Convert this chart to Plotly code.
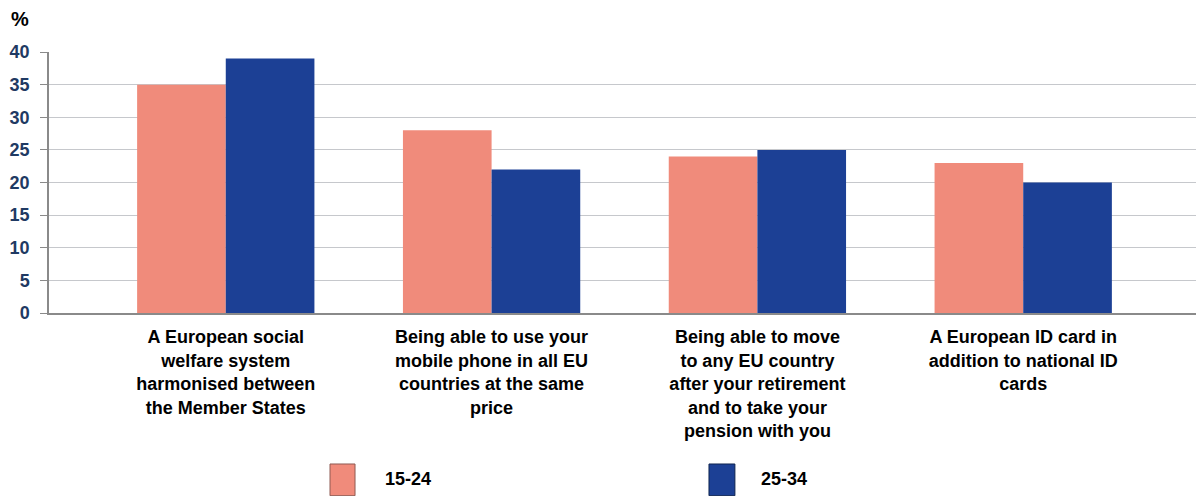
import plotly.graph_objects as go

# Survey answers by age group (%)
categories = [
    "A European social<br>welfare system<br>harmonised between<br>the Member States",
    "Being able to use your<br>mobile phone in all EU<br>countries at the same<br>price",
    "Being able to move<br>to any EU country<br>after your retirement<br>and to take your<br>pension with you",
    "A European ID card in<br>addition to national ID<br>cards",
]
age_15_24 = [35, 28, 24, 23]
age_25_34 = [39, 22, 25, 20]
series_names = ["15-24", "25-34"]
y_ticks = [0, 5, 10, 15, 20, 25, 30, 35, 40]

PINK = "#F08B7B"
BLUE = "#1C4095"
FONT = "Liberation Sans, Arial, sans-serif"

fig = go.Figure()
fig.add_trace(go.Bar(x=categories, y=age_15_24, name=series_names[0],
                     marker=dict(color=PINK, line=dict(width=0))))
fig.add_trace(go.Bar(x=categories, y=age_25_34, name=series_names[1],
                     marker=dict(color=BLUE, line=dict(width=0))))

fig.update_layout(
    width=1196, height=496,
    margin=dict(l=49, r=0, t=52, b=183, pad=0),
    paper_bgcolor="white", plot_bgcolor="white",
    barmode="group", bargap=0.333, bargroupgap=0,
    showlegend=False,
    font=dict(family=FONT, color="black"),
)
fig.update_xaxes(
    range=[-0.665, 3.65],
    showline=True, linecolor="#8a8a8a", linewidth=1.5,
    showgrid=False, ticks="",
    tickfont=dict(family=FONT, size=18, color="black", weight="bold"),
    ticklabelstandoff=7,
)
fig.update_yaxes(
    range=[0, 40], tickvals=y_ticks,
    showline=True, linecolor="#8a8a8a", linewidth=1.5,
    showgrid=True, gridcolor="#c6c8cc", gridwidth=1.2,
    ticks="outside", ticklen=7, tickcolor="#8a8a8a",
    tickfont=dict(family=FONT, size=18, color="#1F3A63", weight="bold"),
    ticklabelstandoff=7,
    zeroline=False,
)

# Axis unit
fig.add_annotation(text="%", xref="paper", yref="paper", x=-0.0253, y=1.126,
                   xanchor="center", yanchor="middle", showarrow=False,
                   font=dict(family=FONT, size=20, color="black", weight="bold"))

# Legend swatches and labels below the chart
legend_items = [
    (series_names[0], PINK, "#8f5a52", 0.245, 0.2668, 0.2912),
    (series_names[1], BLUE, "#0f2450", 0.5754, 0.598, 0.619),
]
for name, color, edge, x0, x1, xt in legend_items:
    fig.add_shape(type="rect", xref="paper", yref="paper", x0=x0, x1=x1,
                  y0=-0.70, y1=-0.5785, fillcolor=color, line=dict(color=edge, width=1))
    fig.add_annotation(text=name, xref="paper", yref="paper", x=xt, y=-0.636,
                       xanchor="left", yanchor="middle", showarrow=False,
                       font=dict(family=FONT, size=18, color="black", weight="bold"))

fig.write_html("out.html")
